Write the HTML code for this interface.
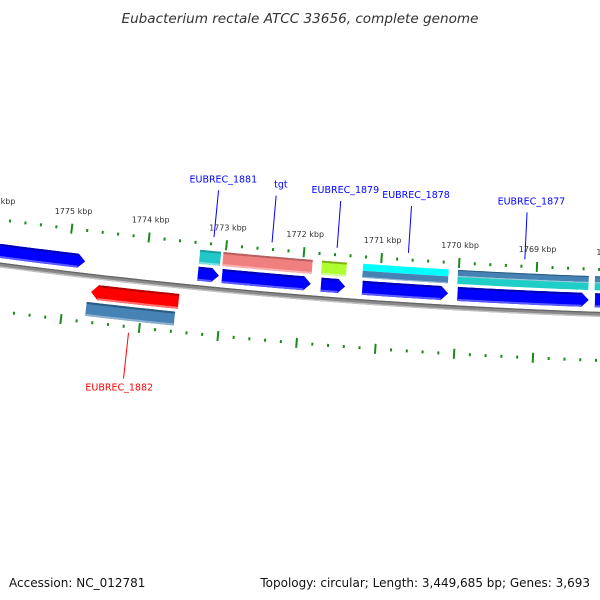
<!DOCTYPE html>
<html><head><meta charset="utf-8"><style>
html,body{margin:0;padding:0;background:#fff;}
svg{display:block;font-family:"DejaVu Sans","Liberation Sans",sans-serif;}
</style></head><body>
<svg id="map" width="600" height="600" viewBox="0 0 600 600" xmlns="http://www.w3.org/2000/svg">
<rect width="600" height="600" fill="#fff"/>
<text x="300" y="23" text-anchor="middle" font-size="13" font-style="italic" fill="#333" textLength="357" lengthAdjust="spacingAndGlyphs">Eubacterium rectale ATCC 33656, complete genome</text>
<g id="ticks"></g>
<g id="backbone"></g>
<g id="features"></g>
<g id="labels"></g>
<text x="9" y="587" font-size="12" fill="#111">Accession: NC_012781</text>
<text x="590" y="587" text-anchor="end" font-size="12" fill="#111">Topology: circular; Length: 3,449,685 bp; Genes: 3,693</text>
</svg>
<script>
// data (kbp positions)
const tickStart = 1767;
const tickEnd = 1777;
const fwdCdsStart = [1777, 1773.33, 1773.02, 1771.75, 1771.22, 1770.0, 1768.24];
const fwdCdsEnd   = [1774.78, 1773.06, 1771.88, 1771.44, 1770.12, 1768.32, 1767];
const row1Start = [1773.33, 1773.03, 1771.76, 1771.23, 1770.01, 1768.25];
const row1End   = [1773.06, 1771.88, 1771.44, 1770.13, 1768.33, 1767];
const row1Type  = ["cyan", "pink", "green", "cyanSteel", "steelCyan", "steelCyan"];
const revCdsStart = [1773.54];
const revCdsEnd   = [1774.66];
const revRow2Start = [1774.70];
const revRow2End   = [1773.57];
const labelNames = ["EUBREC_1881", "tgt", "EUBREC_1879", "EUBREC_1878", "EUBREC_1877"];
const labelKbp   = [1773.17, 1772.42, 1771.58, 1770.66, 1769.16];
const revLabelNames = ["EUBREC_1882"];
const revLabelKbp   = [1774.13];

// geometry
const R = 6250, CX = 812, CY = -5932, PHI0 = -0.08196, K0 = 1772, DK = 0.01254;
const NS = 'http://www.w3.org/2000/svg';
function P(k, d){ const phi = PHI0 - (k - K0) * DK; const r = R + d; return [CX + r*Math.sin(phi), CY + r*Math.cos(phi)]; }
function arcPts(k1, k2, d, n){ const a=[]; for(let i=0;i<=n;i++){ a.push(P(k1+(k2-k1)*i/n, d)); } return a; }
function ptsStr(a){ return a.map(p=>p[0].toFixed(2)+','+p[1].toFixed(2)).join(' '); }
function band(k1,k2,d1,d2){ return arcPts(k1,k2,d1,24).concat(arcPts(k2,k1,d2,24)); }
function arrowPts(ks, ke, d1, d2, head){
  const dir = Math.sign(ke-ks); const kb = ke - dir*head;
  return arcPts(ks,kb,d1,24).concat([P(ke,(d1+d2)/2)]).concat(arcPts(kb,ks,d2,24));
}
function poly(parent, pts, fill, name){
  const e = document.createElementNS(NS,'polygon');
  e.setAttribute('points', ptsStr(pts));
  e.setAttribute('fill', fill);
  
  
  parent.appendChild(e); return e;
}
function line(parent, a, b, color, w, name){
  const e = document.createElementNS(NS,'line');
  e.setAttribute('x1',a[0]); e.setAttribute('y1',a[1]); e.setAttribute('x2',b[0]); e.setAttribute('y2',b[1]);
  e.setAttribute('stroke',color); e.setAttribute('stroke-width',w);
  
  
  parent.appendChild(e); return e;
}
function text(parent, p, s, color, size, name){
  const e = document.createElementNS(NS,'text');
  e.setAttribute('x',p[0]); e.setAttribute('y',p[1]); e.setAttribute('text-anchor','middle');
  e.setAttribute('font-size',size); e.setAttribute('fill',color);
  e.textContent = s;
  
  
  parent.appendChild(e); return e;
}

// ticks
const gT = document.getElementById('ticks');
for(let i = 0; i <= Math.round((tickEnd-tickStart)*5); i++){
  const k = tickStart + i*0.2;
  const major = (i % 5 === 0);
  const h = major ? 5 : 1.5;
  [-45, 46].forEach(dc => {
    line(gT, P(k, dc-h), P(k, dc+h), '#1a8a1a', 2, major ? 'major-tick' : 'minor-tick');
  });
  if(major){
    text(gT, P(k, -60), Math.round(k)+' kbp', '#333', 8, 'tick-label');
  }
}

// backbone
const gB = document.getElementById('backbone');
const bbk1 = 1778, bbk2 = 1766;
poly(gB, band(bbk1, bbk2, -2.5, 2.5), '#8a8a8a', 'backbone-arc');
poly(gB, band(bbk1, bbk2, -2.5, -1.2), '#666', 'backbone-top-edge');
poly(gB, band(bbk1, bbk2, 1.2, 2.5), '#c4c4c4', 'backbone-bottom-edge');

// features
const gF = document.getElementById('features');
const HEAD = 0.09;
fwdCdsStart.forEach((ks, i) => {
  const ke = fwdCdsEnd[i];
  poly(gF, arrowPts(ks, ke, -21, -7, HEAD), '#0000ff', 'forward-cds');
  const kb = ke + HEAD;
  poly(gF, band(ks, kb, -21, -19), '#0000b4', 'forward-cds-edge');
  poly(gF, band(ks, kb, -9, -7), '#5a5aff', 'forward-cds-edge');
});
const colors = {cyan:['#22c8c8','#1aa0a0','#7fe0e0'], pink:['#f08080','#b86060','#f8b0b0'], green:['#adff2f','#80b020','#d0ff90']};
row1Start.forEach((ks, i) => {
  const ke = row1End[i]; const t = row1Type[i];
  if(colors[t]){
    const c = colors[t];
    poly(gF, band(ks, ke, -38, -24), c[0], 'forward-feature-'+t);
    poly(gF, band(ks, ke, -38, -36), c[1], 'feature-edge');
    poly(gF, band(ks, ke, -26, -24), c[2], 'feature-edge');
  } else if(t === 'cyanSteel'){
    poly(gF, band(ks, ke, -38, -31), '#00ffff', 'forward-feature-cyan');
    poly(gF, band(ks, ke, -31, -24), '#4682b4', 'forward-feature-steel');
    poly(gF, band(ks, ke, -25, -24), '#9cbcd8', 'feature-edge');
  } else {
    poly(gF, band(ks, ke, -38, -32), '#4682b4', 'forward-feature-steel');
    poly(gF, band(ks, ke, -38, -37), '#2a5a80', 'feature-edge');
    poly(gF, band(ks, ke, -32, -24), '#20cec8', 'forward-feature-cyan');
    poly(gF, band(ks, ke, -32, -31), '#a0c8d8', 'feature-edge');
  }
});
revCdsStart.forEach((ks, i) => {
  const ke = revCdsEnd[i];
  poly(gF, arrowPts(ks, ke, 8, 23, HEAD), '#ff0000', 'reverse-cds');
  const kb = ke - HEAD;
  poly(gF, band(ks, kb, 8, 10), '#b40000', 'reverse-cds-edge');
  poly(gF, band(ks, kb, 21, 23), '#ff7070', 'reverse-cds-edge');
});
revRow2Start.forEach((ks, i) => {
  const ke = revRow2End[i];
  poly(gF, band(ks, ke, 26, 40), '#4682b4', 'reverse-feature-steel');
  poly(gF, band(ks, ke, 26, 28), '#2a5a80', 'feature-edge');
  poly(gF, band(ks, ke, 38, 40), '#8cb0d0', 'feature-edge');
});

// labels
const gL = document.getElementById('labels');
labelNames.forEach((nm, i) => {
  const k = labelKbp[i];
  line(gL, P(k, -52), P(k, -99), '#0000ff', 1, 'label-leader');
  const p = P(k, -107); p[0] += 4;
  text(gL, p, nm, '#0000ff', 9.5, 'feature-label');
});
revLabelNames.forEach((nm, i) => {
  const k = revLabelKbp[i];
  line(gL, P(k, 52), P(k, 98), '#ff0000', 1, 'label-leader');
  const p = P(k, 110); p[0] -= 3;
  text(gL, p, nm, '#ff0000', 9.5, 'feature-label');
});
</script>
</body></html>
